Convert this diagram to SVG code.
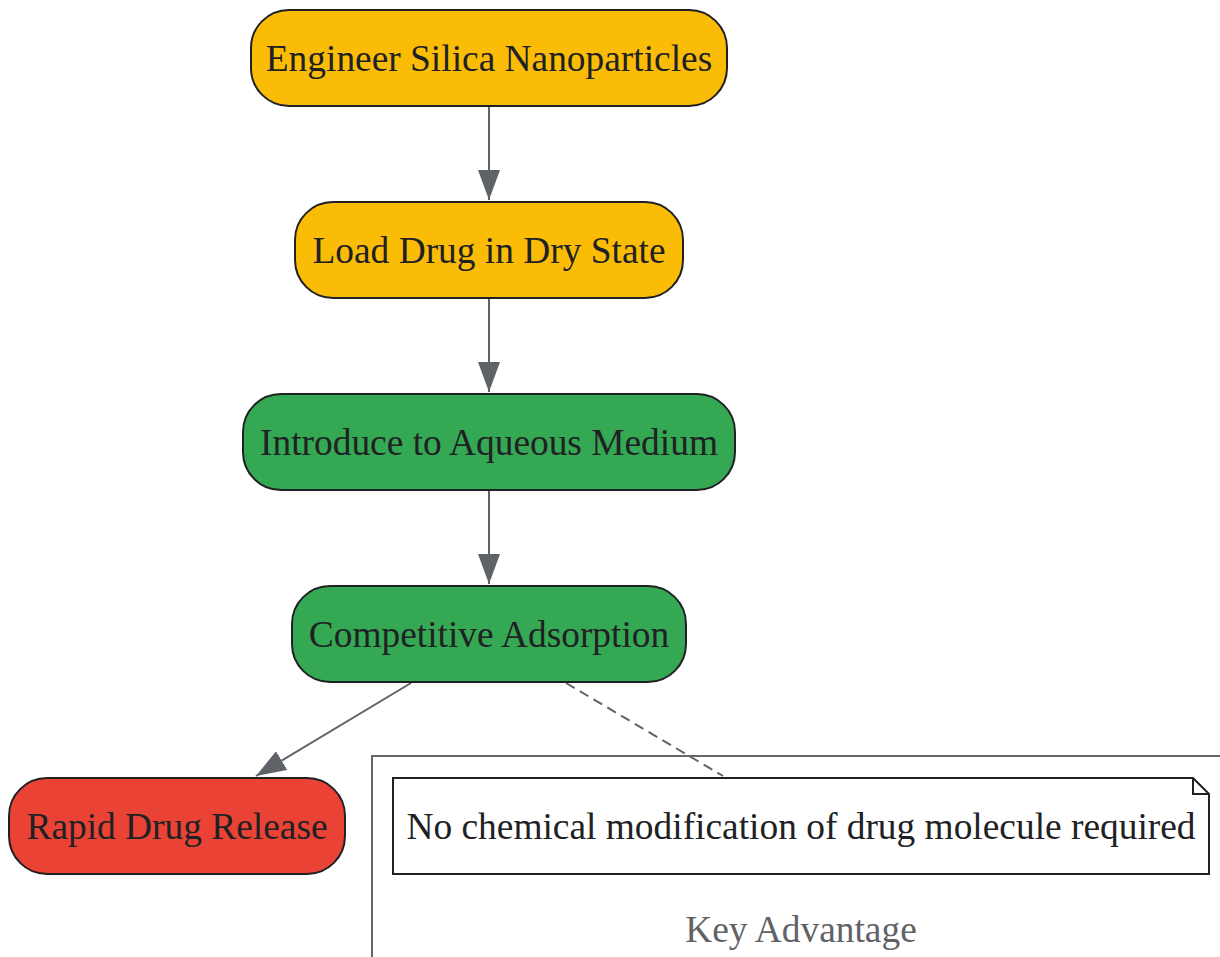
<svg xmlns="http://www.w3.org/2000/svg" width="1220" height="957" viewBox="0 0 1220 957">
<style>
.node rect{stroke:#202124;stroke-width:2}
.lbl{font-family:"Liberation Serif","Times New Roman",serif;font-size:37.4px;fill:#202124;text-anchor:middle}
.edge{stroke:#5f6368;stroke-width:2;fill:none}
</style>
<defs>
<marker id="ah" markerWidth="30" markerHeight="22" refX="30" refY="11" orient="auto" markerUnits="userSpaceOnUse">
<path d="M0,0 L30,11 L0,22 Z" fill="#5f6368"/>
</marker>
</defs>
<rect width="1220" height="957" fill="#ffffff"/>
<g id="cluster_key">
<path d="M372,957 V756 H1222" fill="none" stroke="#666666" stroke-width="2"/>
<text x="801" y="942" class="lbl" style="fill:#5f6368">Key Advantage</text>
</g>
<g id="connectors">
<line class="edge" x1="489" y1="106" x2="489" y2="200" marker-end="url(#ah)"/>
<line class="edge" x1="489" y1="298" x2="489" y2="392" marker-end="url(#ah)"/>
<line class="edge" x1="489" y1="490" x2="489" y2="584" marker-end="url(#ah)"/>
<line class="edge" x1="411" y1="683" x2="256" y2="776" marker-end="url(#ah)"/>
<line class="edge" x1="566" y1="683" x2="723" y2="776" stroke-dasharray="10,6"/>
</g>
<g id="n1" class="node">
<rect x="251" y="10" width="476" height="96" rx="38" fill="#FBBC05"/>
<text x="489" y="71" class="lbl">Engineer Silica Nanoparticles</text>
</g>
<g id="n2" class="node">
<rect x="295" y="202" width="388" height="96" rx="38" fill="#FBBC05"/>
<text x="489" y="263" class="lbl">Load Drug in Dry State</text>
</g>
<g id="n3" class="node">
<rect x="243" y="394" width="492" height="96" rx="38" fill="#34A853"/>
<text x="489" y="455" class="lbl">Introduce to Aqueous Medium</text>
</g>
<g id="n4" class="node">
<rect x="292" y="586" width="394" height="96" rx="38" fill="#34A853"/>
<text x="489" y="647" class="lbl">Competitive Adsorption</text>
</g>
<g id="n5" class="node">
<rect x="9" y="778" width="336" height="96" rx="38" fill="#EA4335"/>
<text x="177" y="839" class="lbl">Rapid Drug Release</text>
</g>
<g id="note">
<path d="M393,778 H1193 L1209,794 V874 H393 Z" fill="#ffffff" stroke="#202124" stroke-width="2"/>
<path d="M1193,778 V794 H1209" fill="none" stroke="#202124" stroke-width="2"/>
<text x="801" y="839" class="lbl">No chemical modification of drug molecule required</text>
</g>
</svg>
